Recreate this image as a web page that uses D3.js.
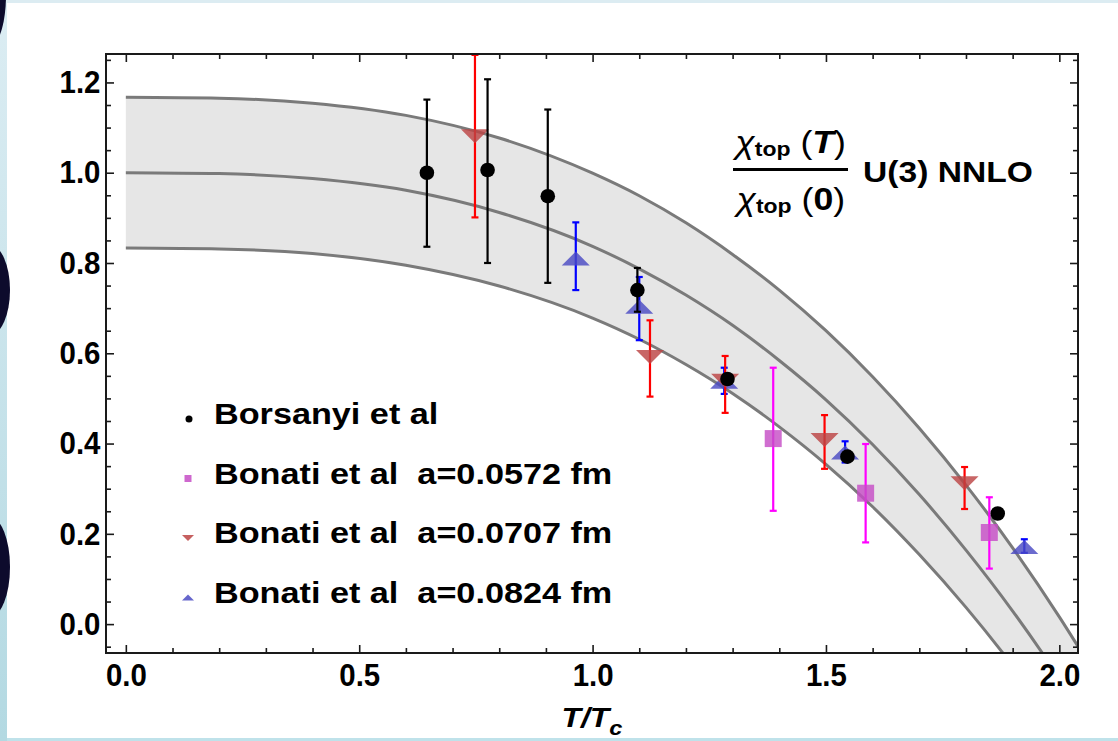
<!DOCTYPE html>
<html>
<head>
<meta charset="utf-8">
<script src="https://cdn.jsdelivr.net/npm/d3@7"></script>
<style>
  html, body { margin: 0; padding: 0; background: #fff; }
  svg { display: block; }
  text { font-family: "Liberation Sans", Arial, sans-serif; white-space: pre; }
</style>
</head>
<body>
<svg id="chart" width="1118" height="741"></svg>
<script>
// ---- U(3) NNLO band: chi_top(T)/chi_top(0), sampled along T/Tc ----
const bandT       = [0, 0.2, 0.4, 0.6, 0.8, 1.0, 1.1, 1.2, 1.3, 1.4, 1.5, 1.6, 1.7, 1.8, 1.9, 2.0, 2.05];
const bandUpper   = [1.167, 1.165, 1.154, 1.127, 1.077, 0.999, 0.949, 0.889, 0.819, 0.740, 0.650, 0.548, 0.434, 0.308, 0.169, 0.016, -0.066];
const bandCentral = [1.000, 0.998, 0.987, 0.961, 0.912, 0.837, 0.787, 0.729, 0.662, 0.584, 0.497, 0.398, 0.287, 0.164, 0.029, -0.120, -0.200];
const bandLower   = [0.833, 0.831, 0.821, 0.795, 0.749, 0.678, 0.631, 0.575, 0.511, 0.437, 0.354, 0.260, 0.154, 0.037, -0.092, -0.233, -0.309];

// ---- lattice data: T/Tc, value, lower and upper end of the error bar ----
const borsanyiT  = [0.645, 0.775, 0.904, 1.096, 1.289, 1.546, 1.868];
const borsanyiV  = [1.000, 1.006, 0.948, 0.740, 0.543, 0.371, 0.245];
const borsanyiLo = [0.836, 0.800, 0.756, 0.692, 0.533, 0.361, 0.235];
const borsanyiHi = [1.162, 1.207, 1.140, 0.789, 0.553, 0.381, 0.255];

const bonati0572T  = [1.387, 1.585, 1.850];
const bonati0572V  = [0.411, 0.290, 0.203];
const bonati0572Lo = [0.251, 0.181, 0.123];
const bonati0572Hi = [0.568, 0.399, 0.281];

const bonati0707T  = [0.748, 1.123, 1.284, 1.497, 1.797];
const bonati0707V  = [1.081, 0.592, 0.539, 0.408, 0.312];
const bonati0707Lo = [0.901, 0.504, 0.468, 0.344, 0.255];
const bonati0707Hi = [1.261, 0.673, 0.594, 0.463, 0.348];

const bonati0824T  = [0.964, 1.100, 1.282, 1.541, 1.925];
const bonati0824V  = [0.810, 0.703, 0.537, 0.380, 0.171];
const bonati0824Lo = [0.740, 0.629, 0.510, 0.358, 0.158];
const bonati0824Hi = [0.890, 0.769, 0.568, 0.405, 0.188];

// ---- axes and legend text ----
const xTickValues = [0, 0.5, 1.0, 1.5, 2.0];
const xTickLabels = ["0.0", "0.5", "1.0", "1.5", "2.0"];
const yTickValues = [0, 0.2, 0.4, 0.6, 0.8, 1.0, 1.2];
const yTickLabels = ["0.0", "0.2", "0.4", "0.6", "0.8", "1.0", "1.2"];
const legendLabels = ["Borsanyi et al", "Bonati et al  a=0.0572 fm", "Bonati et al  a=0.0707 fm", "Bonati et al  a=0.0824 fm"];

const W = 1118, H = 741;
const plot = { left: 106, right: 1078, top: 54, bottom: 653 };

const x = d3.scaleLinear().domain([-0.0425, 2.04]).range([plot.left, plot.right]);
const y = d3.scaleLinear().domain([-0.064, 1.263]).range([plot.bottom, plot.top]);

const svg = d3.select("#chart");
const defs = svg.append("defs");

// slide background: pale blue edges with dark rounded shapes on the left
const grad = defs.append("linearGradient").attr("id", "edgeGrad")
  .attr("x1", 0).attr("y1", 0).attr("x2", 0).attr("y2", 1);
grad.append("stop").attr("offset", "0%").attr("stop-color", "#dcedf3");
grad.append("stop").attr("offset", "100%").attr("stop-color", "#b3d9e2");

svg.append("rect").attr("width", W).attr("height", H).attr("fill", "#fff");
svg.append("rect").attr("x", 0).attr("y", 0).attr("width", W).attr("height", 3).attr("fill", "#dcecf2");
svg.append("rect").attr("x", 0).attr("y", H - 3).attr("width", W).attr("height", 3).attr("fill", "#bfe2ea");
svg.append("rect").attr("x", 0).attr("y", 0).attr("width", 7).attr("height", H).attr("fill", "url(#edgeGrad)");

const edgeShapes = [
  { cx: -8, cy: -5, rx: 14, ry: 48 },
  { cx: -10, cy: 290, rx: 20, ry: 45 },
  { cx: -10, cy: 567, rx: 20, ry: 50 }
];
svg.append("g").selectAll("ellipse").data(edgeShapes).join("ellipse")
  .attr("cx", d => d.cx).attr("cy", d => d.cy)
  .attr("rx", d => d.rx).attr("ry", d => d.ry)
  .attr("fill", "#0d0b2c");

// clip everything drawn inside the frame
defs.append("clipPath").attr("id", "plotClip").append("rect")
  .attr("x", plot.left).attr("y", plot.top)
  .attr("width", plot.right - plot.left).attr("height", plot.bottom - plot.top);

const inner = svg.append("g").attr("clip-path", "url(#plotClip)");

// ---- theory band ----
const bandRows = bandT.map((t, i) => ({ t, up: bandUpper[i], mid: bandCentral[i], lo: bandLower[i] }));

inner.append("path").datum(bandRows)
  .attr("fill", "#e6e6e6")
  .attr("d", d3.area().curve(d3.curveMonotoneX)
    .x(d => x(d.t)).y0(d => y(d.lo)).y1(d => y(d.up)));

["up", "mid", "lo"].forEach(key => {
  inner.append("path").datum(bandRows)
    .attr("fill", "none")
    .attr("stroke", "#7a7a7a")
    .attr("stroke-width", 3)
    .attr("d", d3.line().curve(d3.curveMonotoneX).x(d => x(d.t)).y(d => y(d[key])));
});

// ---- series ----
function rows(T, V, Lo, Hi) {
  return T.map((t, i) => ({ t, v: V[i], lo: Lo[i], hi: Hi[i] }));
}

const series = [
  { name: "b0824", data: rows(bonati0824T, bonati0824V, bonati0824Lo, bonati0824Hi),
    bar: "#0000ff", fill: "#4b4bc3", shape: "up" },
  { name: "b0707", data: rows(bonati0707T, bonati0707V, bonati0707Lo, bonati0707Hi),
    bar: "#ff0000", fill: "#bc4444", shape: "down" },
  { name: "b0572", data: rows(bonati0572T, bonati0572V, bonati0572Lo, bonati0572Hi),
    bar: "#ff00ff", fill: "#c64ec6", shape: "square" },
  { name: "bors", data: rows(borsanyiT, borsanyiV, borsanyiLo, borsanyiHi),
    bar: "#000000", fill: "#000000", shape: "dot" }
];

function markerPath(shape, w, h) {
  if (shape === "up") return `M0,${-h / 2}L${w / 2},${h / 2}L${-w / 2},${h / 2}Z`;
  if (shape === "down") return `M0,${h / 2}L${w / 2},${-h / 2}L${-w / 2},${-h / 2}Z`;
  if (shape === "square") return `M${-w / 2},${-h / 2}h${w}v${h}h${-w}Z`;
  return null;
}

const capHalf = 3.5;
series.forEach(s => {
  const g = inner.append("g").attr("class", s.name);
  // error bars
  const eb = g.append("g").attr("stroke", s.bar).attr("stroke-width", 2.2).attr("fill", "none");
  s.data.forEach(d => {
    const cx = x(d.t);
    eb.append("line").attr("x1", cx).attr("x2", cx).attr("y1", y(d.lo)).attr("y2", y(d.hi));
    eb.append("line").attr("x1", cx - capHalf).attr("x2", cx + capHalf).attr("y1", y(d.lo)).attr("y2", y(d.lo));
    eb.append("line").attr("x1", cx - capHalf).attr("x2", cx + capHalf).attr("y1", y(d.hi)).attr("y2", y(d.hi));
  });
  // markers
  if (s.shape === "dot") {
    g.selectAll("circle").data(s.data).join("circle")
      .attr("cx", d => x(d.t)).attr("cy", d => y(d.v)).attr("r", 7.3)
      .attr("fill", s.fill);
  } else {
    const w = s.shape === "square" ? 17 : 28;
    const h = s.shape === "square" ? 17 : 14;
    g.selectAll("path.mk").data(s.data).join("path").attr("class", "mk")
      .attr("transform", d => `translate(${x(d.t)},${y(d.v)})`)
      .attr("d", markerPath(s.shape, w, h))
      .attr("fill", s.fill).attr("fill-opacity", 0.82);
  }
});

// ---- frame and ticks (ticks point inward on all four sides) ----
const xMinor = d3.range(0, 2.01, 0.1).filter(v => Math.abs(v * 2 - Math.round(v * 2)) > 1e-6);
const yMinor = d3.range(-0.05, 1.26, 0.05).filter(v => Math.abs(v * 5 - Math.round(v * 5)) > 1e-6);

function styleAxis(g) {
  g.select(".domain").remove();
  g.selectAll(".tick line").attr("stroke", "#1a1a1a").attr("stroke-width", 1.6);
}

const labelFont = g => g.attr("font-size", 32).attr("font-weight", "bold")
  .attr("font-family", "'Liberation Sans', Arial, sans-serif");

// bottom
svg.append("g").attr("transform", `translate(0,${plot.bottom})`)
  .call(d3.axisBottom(x).tickValues(xTickValues).tickSize(-8).tickSizeOuter(0).tickPadding(10)
    .tickFormat((d, i) => xTickLabels[i]))
  .call(styleAxis).call(labelFont)
  .call(g => g.selectAll("text").attr("fill", "#000").attr("transform", "scale(0.92,1)"));
svg.append("g").attr("transform", `translate(0,${plot.bottom})`)
  .call(d3.axisBottom(x).tickValues(xMinor).tickSize(-5).tickSizeOuter(0).tickFormat(""))
  .call(styleAxis);

// top
svg.append("g").attr("transform", `translate(0,${plot.top})`)
  .call(d3.axisTop(x).tickValues(xTickValues).tickSize(-8).tickSizeOuter(0).tickFormat(""))
  .call(styleAxis);
svg.append("g").attr("transform", `translate(0,${plot.top})`)
  .call(d3.axisTop(x).tickValues(xMinor).tickSize(-5).tickSizeOuter(0).tickFormat(""))
  .call(styleAxis);

// left
svg.append("g").attr("transform", `translate(${plot.left},0)`)
  .call(d3.axisLeft(y).tickValues(yTickValues).tickSize(-8).tickSizeOuter(0).tickPadding(6)
    .tickFormat((d, i) => yTickLabels[i]))
  .call(styleAxis).call(labelFont)
  .call(g => g.selectAll("text").attr("fill", "#000").attr("transform", "scale(0.92,1)"));
svg.append("g").attr("transform", `translate(${plot.left},0)`)
  .call(d3.axisLeft(y).tickValues(yMinor).tickSize(-5).tickSizeOuter(0).tickFormat(""))
  .call(styleAxis);

// right
svg.append("g").attr("transform", `translate(${plot.right},0)`)
  .call(d3.axisRight(y).tickValues(yTickValues).tickSize(-8).tickSizeOuter(0).tickFormat(""))
  .call(styleAxis);
svg.append("g").attr("transform", `translate(${plot.right},0)`)
  .call(d3.axisRight(y).tickValues(yMinor).tickSize(-5).tickSizeOuter(0).tickFormat(""))
  .call(styleAxis);

svg.append("rect")
  .attr("x", plot.left).attr("y", plot.top)
  .attr("width", plot.right - plot.left).attr("height", plot.bottom - plot.top)
  .attr("fill", "none").attr("stroke", "#1a1a1a").attr("stroke-width", 2);

// ---- axis title T/Tc ----
const xTitle = svg.append("text")
  .attr("transform", `translate(${(plot.left + plot.right) / 2},727) scale(1.18,1)`)
  .attr("text-anchor", "middle")
  .attr("font-size", 27).attr("font-weight", "bold").attr("font-style", "italic");
xTitle.append("tspan").text("T/T");
xTitle.append("tspan").attr("font-size", 20).attr("dy", 8).text("c");

// ---- annotation: chi_top(T)/chi_top(0)  U(3) NNLO ----
const ann = svg.append("g").attr("transform", "translate(733,0) scale(1.15,1)");
function chiTerm(yBase, xOff, argText, argStyle) {
  const t = ann.append("text").attr("x", xOff).attr("y", yBase).attr("font-size", 31);
  t.append("tspan").attr("font-style", "italic").text("\u03C7");
  t.append("tspan").attr("font-size", 20).attr("font-weight", "bold").attr("dy", 3).text("top");
  t.append("tspan").attr("dy", -3).text(" (");
  t.append("tspan").attr("font-weight", "bold").attr("font-style", argStyle).text(argText);
  t.append("tspan").text(")");
}
chiTerm(153.5, 2, "T", "italic");
chiTerm(210, 3, "0", "normal");
ann.append("line").attr("x1", 0).attr("x2", 100).attr("y1", 169.5).attr("y2", 169.5)
  .attr("stroke", "#000").attr("stroke-width", 3);

svg.append("text")
  .attr("transform", "translate(863,182) scale(1.12,1)")
  .attr("font-size", 30).attr("font-weight", "bold")
  .text("U(3) NNLO");

// ---- legend ----
const legendShapes = ["dot", "square", "down", "up"];
const legendFills = ["#000000", "#c64ec6", "#bc4444", "#4b4bc3"];
const legendBaselines = [424, 483.5, 543, 602.5];
const legend = svg.append("g");
legendLabels.forEach((label, i) => {
  const by = legendBaselines[i];
  const my = by - 5;
  if (legendShapes[i] === "dot") {
    legend.append("circle").attr("cx", 189).attr("cy", my).attr("r", 3.5).attr("fill", legendFills[i]);
  } else {
    const w = legendShapes[i] === "square" ? 7 : 12;
    const h = legendShapes[i] === "square" ? 7 : 6;
    legend.append("path")
      .attr("transform", `translate(188,${my})`)
      .attr("d", markerPath(legendShapes[i], w, h))
      .attr("fill", legendFills[i]).attr("fill-opacity", 0.85);
  }
  legend.append("text")
    .attr("transform", `translate(214,${by}) scale(1.18,1)`)
    .attr("font-size", 29).attr("font-weight", "bold")
    .text(label);
});
</script>
</body>
</html>
